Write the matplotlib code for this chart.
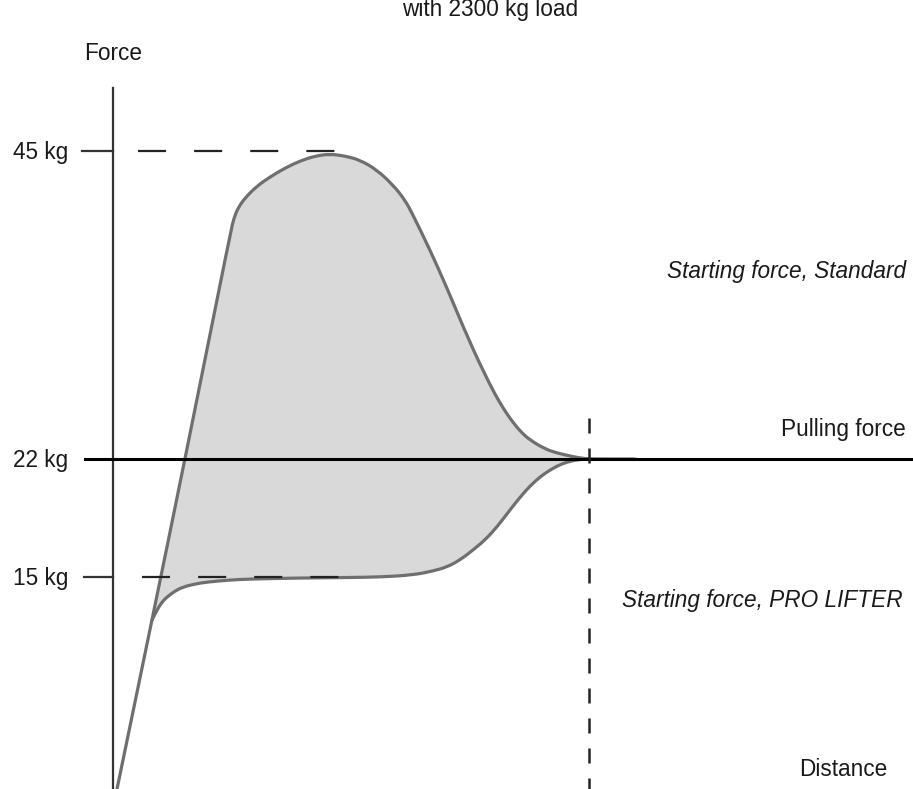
import numpy as np
import matplotlib
matplotlib.use("Agg")
import matplotlib.pyplot as plt
from matplotlib.path import Path
from matplotlib.patches import PathPatch

plt.rcParams['font.family'] = ['Liberation Sans', 'DejaVu Sans']
plt.rcParams['lines.scale_dashes'] = False

# schematic chart, values in drawing units (x right, y down)
# rising part + standard starting force curve
std_x = [117, 152, 185, 231, 234, 238, 245, 257, 270, 285, 300, 315, 330, 345, 360, 377,
         393, 405, 413, 430, 447, 470, 490, 500, 507, 515, 522, 530, 545, 557, 570, 580,
         590, 635]
std_y = [789, 620, 459, 230, 218, 208, 198, 186, 177, 168, 161, 156, 154, 156, 160, 170,
         185, 200, 215, 250, 288, 343, 385, 403, 414, 425, 433, 440, 449, 453, 456, 458,
         459, 459]

# PRO LIFTER starting force curve
pro_x = [152, 157, 162, 167, 175, 183, 195, 207, 230, 250, 300, 350, 380, 413, 433,
         447, 460, 473, 485, 497, 513, 522, 530, 540, 547, 557, 567, 578, 590]
pro_y = [620, 610, 602, 597, 591, 587, 584, 582, 580, 579, 578, 577.5, 577, 575, 571,
         567, 560, 550, 540, 527, 506, 495, 486, 477, 472, 466, 462, 459.5, 459]

tick_labels = ['45 kg', '22 kg', '15 kg']
tick_pos = [151, 459, 577]


def smooth_path(xs, ys):
    # quadratic bezier through midpoints so the polyline reads as a smooth curve
    pts = np.column_stack([xs, ys]).astype(float)
    verts = [pts[0]]
    codes = [Path.MOVETO]
    if len(pts) > 2:
        verts.append((pts[0] + pts[1]) / 2)
        codes.append(Path.LINETO)
        for i in range(1, len(pts) - 1):
            verts += [pts[i], (pts[i] + pts[i + 1]) / 2]
            codes += [Path.CURVE3, Path.CURVE3]
    verts.append(pts[-1])
    codes.append(Path.LINETO)
    return verts, codes


W, H = 913, 789
fig = plt.figure(figsize=(W / 100, H / 100), dpi=100)
ax = fig.add_axes([0, 0, 1, 1])
ax.set_xlim(0, W)
ax.set_ylim(H, 0)
ax.axis('off')

curve_col = '#6f6f6f'
txt_col = '#1a1a1a'
fs = 16.3

i0 = std_x.index(152)
i1 = std_x.index(590)
up_v, up_c = smooth_path(std_x[i0:i1 + 1], std_y[i0:i1 + 1])
lo_v, lo_c = smooth_path(pro_x[::-1], pro_y[::-1])

# shaded area between the two curves
fill_v = up_v + lo_v[1:] + [up_v[0]]
fill_c = up_c + lo_c[1:] + [Path.CLOSEPOLY]
fill_c[len(up_c)] = Path.LINETO
ax.add_patch(PathPatch(Path(fill_v, fill_c), facecolor='#d9d9d9', lw=0, zorder=1))

for xs, ys in [(std_x, std_y), (pro_x, pro_y)]:
    v, c = smooth_path(xs, ys)
    ax.add_patch(PathPatch(Path(v, c), facecolor='none', edgecolor=curve_col, lw=2.3,
                           zorder=3, capstyle='round', joinstyle='round'))

# force axis
ax.plot([113, 113], [88, H], color='#333333', lw=1.6, zorder=2)

# tick marks and guides
ax.plot([82, 113], [tick_pos[0], tick_pos[0]], color='#333333', lw=1.6, zorder=2)
ax.plot([138, 335], [tick_pos[0], tick_pos[0]], color='#222222', lw=1.6,
        dashes=(20.2, 20.2), zorder=4)
ax.plot([84, 113], [tick_pos[2], tick_pos[2]], color='#333333', lw=1.6, zorder=2)
ax.plot([142, 339], [tick_pos[2], tick_pos[2]], color='#222222', lw=1.6,
        dashes=(20.2, 20.2), zorder=4)

# pulling force line
ax.plot([85, W], [tick_pos[1], tick_pos[1]], color='#000000', lw=2.2, zorder=5)

# vertical dashed line where curves meet
ax.plot([589, 589], [418, H], color='#222222', lw=1.8, dashes=(10.8, 10.8), zorder=6)

for lab, y in zip(tick_labels, tick_pos):
    ax.text(68, y + 8, lab, ha='right', va='baseline', fontsize=fs, color=txt_col)

ax.text(490, 16, 'with 2300 kg load', ha='center', va='baseline', fontsize=fs, color=txt_col)
ax.text(113, 60, 'Force', ha='center', va='baseline', fontsize=fs, color=txt_col)
ax.text(906, 278, 'Starting force, Standard', ha='right', va='baseline', fontsize=fs,
        style='italic', color=txt_col)
ax.text(906, 436, 'Pulling force', ha='right', va='baseline', fontsize=fs, color=txt_col)
ax.text(903, 607, 'Starting force, PRO LIFTER', ha='right', va='baseline', fontsize=fs,
        style='italic', color=txt_col)
ax.text(887, 776, 'Distance', ha='right', va='baseline', fontsize=fs, color=txt_col)

fig.savefig('out.png', dpi=100)
